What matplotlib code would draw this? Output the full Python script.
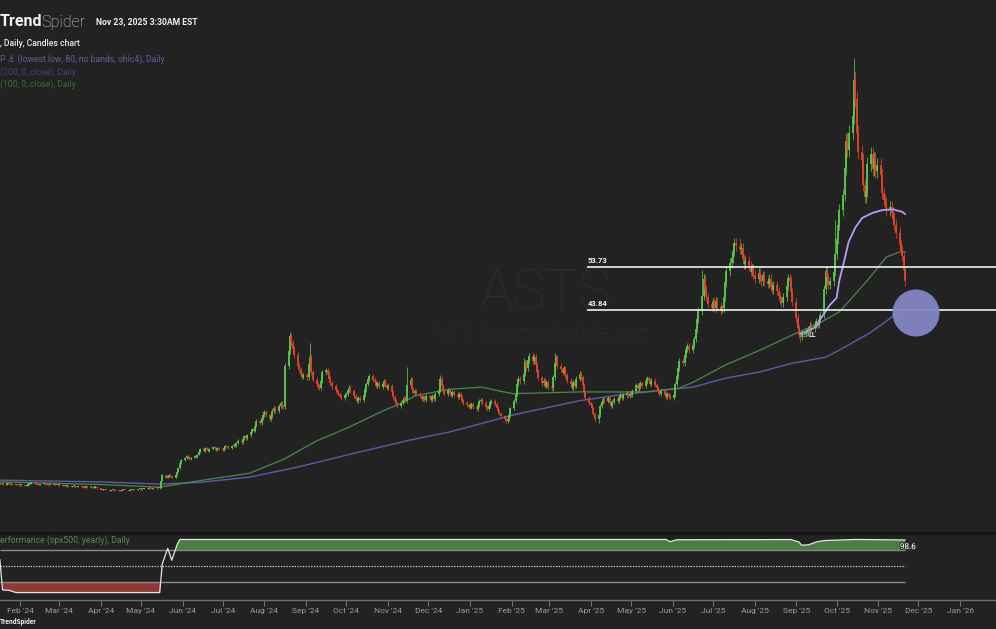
import numpy as np
import pandas as pd
import matplotlib
matplotlib.use("Agg")
import matplotlib.pyplot as plt
import matplotlib.dates as mdates
from matplotlib.patches import Ellipse
from matplotlib.lines import Line2D
import matplotlib.patheffects as pe

# ---------------- DATA ----------------
month_starts = ["2024-01-17", "2024-02-01", "2024-03-01", "2024-04-01", "2024-05-01", "2024-06-01",
                "2024-07-01", "2024-08-01", "2024-09-01", "2024-10-01", "2024-11-01", "2024-12-01",
                "2025-01-01", "2025-02-01", "2025-03-01", "2025-04-01", "2025-05-01", "2025-06-01",
                "2025-07-01", "2025-08-01", "2025-09-01", "2025-10-01", "2025-11-01"]
last_day = "2025-11-21"

month_closes = [
    [3.9, 3.8, 3.7, 3.9, 4.0, 3.8, 3.7, 3.6, 3.7, 3.6, 3.5],
    [3.5, 3.6, 3.4, 3.5, 3.7, 3.9, 4.2, 4.0, 3.8, 3.7, 3.6, 3.8, 3.9, 3.7, 3.6, 3.5, 3.6, 3.8, 3.7, 3.6, 3.5],
    [3.5, 3.4, 3.5, 3.3, 3.4, 3.2, 3.3, 3.4, 3.2, 3.1, 3.3, 3.2, 3.1, 3.0, 3.2, 3.1, 3.0, 2.9, 3.0, 3.1, 2.8],
    [2.5, 2.4, 2.6, 2.5, 2.4, 2.3, 2.5, 2.6, 2.4, 2.3, 2.2, 2.3, 2.4, 2.5, 2.4, 2.3, 2.4, 2.5, 2.6, 2.5, 2.6, 2.7],
    [2.6, 2.7, 2.8, 2.7, 2.9, 2.8, 2.7, 2.8, 2.9, 2.8, 3.0, 4.6, 5.9, 5.2, 5.6, 6.0, 5.6, 5.3, 5.8, 6.6, 7.4, 8.6, 9.4],
    [9.8, 10.2, 10.0, 9.6, 9.9, 10.3, 10.1, 10.6, 11.2, 11.8, 11.5, 12.2, 11.9, 11.4, 11.8, 12.3, 12.0, 11.6, 12.1, 11.8],
    [11.7, 12.2, 12.6, 12.3, 12.0, 12.5, 12.9, 12.6, 13.2, 13.8, 13.4, 14.2, 14.8, 14.3, 15.0, 15.8, 16.4, 16.0, 17.2, 18.3, 17.8, 19.0, 19.6],
    [20.4, 19.6, 18.8, 19.5, 20.6, 21.3, 20.5, 21.8, 22.4, 21.6, 21.5, 31.0, 34.5, 37.8, 36.2, 34.8, 33.5, 31.0, 30.2, 29.0, 28.5, 28.8],
    [28.4, 31.5, 33.0, 29.5, 27.8, 26.8, 26.2, 26.0, 27.5, 29.5, 30.0, 29.2, 28.0, 27.0, 26.3, 25.5, 25.0, 24.5, 24.0, 23.6, 24.2],
    [24.6, 25.4, 26.0, 25.2, 24.0, 23.4, 23.0, 23.6, 23.2, 24.4, 25.6, 26.8, 28.0, 28.6, 27.8, 27.2, 26.4, 27.0, 26.2, 26.8, 27.4, 26.6, 26.0],
    [26.4, 25.0, 23.8, 22.9, 22.2, 21.8, 22.4, 23.2, 23.6, 23.0, 26.5, 27.8, 25.6, 24.8, 25.2, 24.6, 24.0, 23.4, 23.8, 23.2, 24.0],
    [23.6, 23.2, 24.0, 23.4, 24.6, 25.5, 28.0, 26.4, 25.2, 24.6, 25.4, 24.8, 24.2, 25.0, 24.4, 23.8, 24.6, 23.9, 23.0, 22.4, 22.0, 21.6],
    [21.4, 22.2, 21.6, 21.0, 22.0, 22.8, 23.2, 22.4, 21.6, 21.0, 21.8, 22.6, 23.0, 22.2, 21.4, 20.6, 20.0, 19.4, 18.8, 18.2, 18.8, 19.6, 21.2],
    [23.0, 24.6, 26.8, 28.0, 27.4, 29.2, 31.6, 30.4, 32.4, 33.2, 32.0, 33.0, 31.2, 29.6, 28.2, 27.0, 27.6, 26.4, 27.2, 26.0],
    [25.8, 28.4, 31.6, 32.8, 31.0, 30.2, 29.4, 30.4, 28.8, 27.6, 26.8, 26.0, 27.2, 26.4, 28.0, 29.2, 28.4, 26.6, 25.0, 23.6, 22.4],
    [22.0, 21.2, 20.0, 18.8, 19.6, 21.8, 22.6, 23.4, 22.8, 23.6, 22.4, 21.8, 22.6, 23.4, 22.8, 23.8, 24.4, 23.6, 24.2, 24.8, 24.0, 24.6],
    [24.4, 25.2, 26.6, 25.8, 26.2, 27.0, 26.4, 27.4, 28.2, 27.6, 26.8, 27.6, 26.6, 25.8, 25.2, 24.6, 25.2, 24.4, 23.8, 24.6, 24.0, 23.6],
    [24.2, 26.8, 28.6, 30.4, 32.2, 31.6, 33.4, 34.8, 35.6, 34.6, 35.8, 37.2, 39.4, 41.8, 43.6, 47.0, 51.0, 48.6, 46.8, 45.2, 44.4],
    [45.6, 44.2, 45.8, 44.8, 43.6, 44.2, 46.8, 50.2, 52.8, 54.6, 55.8, 57.4, 59.2, 58.6, 57.8, 58.2, 55.6, 54.4, 55.2, 54.0, 52.6, 53.4, 52.0],
    [51.0, 52.4, 51.2, 50.4, 51.8, 50.6, 49.8, 51.0, 49.2, 48.4, 49.6, 48.2, 47.0, 46.2, 45.4, 46.8, 49.4, 51.2, 50.6, 48.0, 45.6],
    [42.0, 39.6, 38.2, 37.6, 38.4, 39.0, 38.6, 39.4, 40.2, 39.6, 40.6, 41.2, 40.4, 41.6, 42.8, 48.6, 52.8, 51.4, 49.6, 50.4, 52.6, 56.8],
    [60.2, 63.4, 66.8, 70.2, 76.4, 82.8, 80.6, 84.6, 88.4, 96.8, 92.4, 84.6, 80.2, 78.4, 72.6, 69.8, 71.2, 77.4, 79.8, 76.2, 78.6, 75.8, 77.2],
    [75.0, 70.8, 69.2, 68.4, 66.8, 67.6, 66.2, 65.0, 63.4, 61.6, 58.8, 57.6, 56.2, 53.0, 50.4],
]

wick_high_dates = ["2024-08-20", "2024-09-04", "2024-11-15", "2024-12-10", "2025-02-10", "2025-03-05",
                   "2025-06-23", "2025-07-21", "2025-09-30", "2025-10-14"]
wick_high_vals = [38.8, 36.2, 30.7, 28.9, 32.8, 33.9, 53.0, 60.4, 64.5, 101.8]
wick_low_dates = ["2025-04-07", "2025-07-08", "2025-09-04"]
wick_low_vals = [17.8, 43.2, 36.5]

sma200_dates = ["2024-01-17", "2024-04-01", "2024-05-15", "2024-06-14", "2024-07-21", "2024-08-27", "2024-10-03",
                "2024-11-17", "2024-12-17", "2025-01-08", "2025-02-02", "2025-03-24", "2025-04-22", "2025-05-22",
                "2025-06-16", "2025-07-11", "2025-08-05", "2025-08-29", "2025-09-23", "2025-10-03", "2025-10-26",
                "2025-11-12", "2025-11-21"]
sma200_vals = [4.7, 4.3, 3.8, 4.2, 5.4, 7.8, 10.6, 13.9, 15.8, 17.6, 19.7, 23.0, 24.3, 25.3, 26.1, 28.2, 29.6,
               31.6, 33.0, 34.6, 38.6, 42.4, 43.8]

sma100_dates = ["2024-01-17", "2024-04-01", "2024-05-15", "2024-06-14", "2024-07-21", "2024-08-16", "2024-09-08",
                "2024-10-03", "2024-10-28", "2024-11-10", "2024-11-22", "2024-12-17", "2025-01-10", "2025-01-23",
                "2025-02-02", "2025-03-24", "2025-05-12", "2025-06-06", "2025-06-16", "2025-07-11", "2025-08-05",
                "2025-08-29", "2025-09-18", "2025-10-03", "2025-10-11", "2025-10-26", "2025-11-07", "2025-11-17",
                "2025-11-21"]
sma100_vals = [4.3, 3.7, 3.1, 4.6, 6.3, 9.6, 13.6, 16.9, 20.6, 22.3, 24.2, 25.6, 26.1, 25.2, 24.6, 25.0, 25.0,
               25.9, 27.2, 31.3, 34.6, 38.1, 40.8, 43.4, 46.1, 51.4, 56.0, 57.2, 57.2]

vwap_dates = ["2025-09-04", "2025-09-11", "2025-09-16", "2025-09-19", "2025-09-23", "2025-09-26", "2025-10-01",
              "2025-10-03", "2025-10-07", "2025-10-10", "2025-10-15", "2025-10-20", "2025-10-28", "2025-11-04",
              "2025-11-12", "2025-11-19", "2025-11-21"]
vwap_vals = [38.4, 39.2, 40.0, 41.8, 43.6, 45.0, 46.6, 50.5, 55.5, 59.5, 62.8, 65.0, 66.2, 66.8, 67.0, 66.4, 65.9]

perf_dates = ["2024-01-17", "2024-01-19", "2024-01-24", "2024-01-29", "2024-05-15", "2024-05-17", "2024-05-21",
              "2024-05-24", "2024-05-28", "2024-05-30", "2025-05-27", "2025-05-30", "2025-06-04", "2025-08-28",
              "2025-09-03", "2025-09-05", "2025-09-10", "2025-09-16", "2025-09-22", "2025-10-15", "2025-11-05",
              "2025-11-21"]
perf_vals = [62, 6, 5, 1, 1, 55, 83, 61, 90, 99.5, 99.5, 95.5, 99.0, 99.3, 95, 89, 89.5, 95, 97.5, 99.5, 99.0, 98.6]

levels = [53.73, 43.84]
perf_levels = [80, 50, 20]

# ---------------- LAYOUT ----------------
W, H = 996, 629
BG = "#222222"
PX_PER_DAY = 1.343
fig = plt.figure(figsize=(W / 100, H / 100), dpi=100)
fig.patch.set_facecolor(BG)
plt.rcParams["font.family"] = ["Roboto", "DejaVu Sans"]

x_feb = mdates.date2num(pd.Timestamp("2024-02-01"))
xmin = x_feb - 20 / PX_PER_DAY
xmax = xmin + W / PX_PER_DAY
MAIN_H = 533


def xat(px):
    return xmin + px / PX_PER_DAY


def fx(x):
    return x / W


def fy(y):
    return 1 - y / H


ax = fig.add_axes([0, (H - MAIN_H) / H, 1, MAIN_H / H])
ax.set_facecolor(BG)
ax.set_xlim(xmin, xmax)
ax.set_ylim(-7.45, 115.14)
ax.axis("off")

# watermark (inside axes, behind everything)
ax.text(545 / W, 1 - 294 / MAIN_H, "ASTS", transform=ax.transAxes, fontsize=40, fontweight="light",
        color="#2b2b2b", ha="center", va="center", zorder=0)
ax.text(542 / W, 1 - 335 / MAIN_H, "AST SpaceMobile, Inc.", transform=ax.transAxes, fontsize=17,
        fontweight="light", color="#2b2b2b", ha="center", va="center", zorder=0)

# build candles
dates = []
closes = []
for i, vals in enumerate(month_closes):
    start = pd.Timestamp(month_starts[i])
    if i + 1 < len(month_starts):
        end = pd.Timestamp(month_starts[i + 1]) - pd.Timedelta(days=1)
    else:
        end = pd.Timestamp(last_day)
    b = pd.bdate_range(start, end)
    idx = np.round(np.linspace(0, len(b) - 1, len(vals))).astype(int)
    dates.extend(list(b[idx]))
    closes.extend(vals)
dates = pd.DatetimeIndex(dates)
closes = np.array(closes, dtype=float)
opens = np.concatenate([[closes[0]], closes[:-1]])
wf = 0.02
highs = np.maximum(opens, closes) * (1 + wf)
lows = np.minimum(opens, closes) * (1 - wf)
dstr = dates.strftime("%Y-%m-%d")
for d, v in zip(wick_high_dates, wick_high_vals):
    m = np.where(dstr == d)[0]
    if len(m):
        highs[m[0]] = v
for d, v in zip(wick_low_dates, wick_low_vals):
    m = np.where(dstr == d)[0]
    if len(m):
        lows[m[0]] = v

xd = mdates.date2num(dates)
up = closes >= opens
cols = np.where(up, "#5cc84a", "#e0442c")
body_lo = np.minimum(opens, closes)
body_hi = np.maximum(opens, closes)
body_hi = np.maximum(body_hi, body_lo + 0.25)
ax.vlines(xd, lows, highs, colors=cols, lw=0.55, zorder=3)
ax.vlines(xd, body_lo, body_hi, colors=cols, lw=1.3, zorder=3)

# moving averages / vwap
ax.plot(mdates.date2num(pd.to_datetime(sma200_dates)), sma200_vals, color="#5a5ea8", lw=1.0, zorder=2)
ax.plot(mdates.date2num(pd.to_datetime(sma100_dates)), sma100_vals, color="#4d874d", lw=0.9, zorder=2)
ax.plot(mdates.date2num(pd.to_datetime(vwap_dates)), vwap_vals, color="#b69df2", lw=1.3, zorder=4)

# horizontal levels
ax.hlines(levels, xat(587), xmax, colors="#f0f0f0", lw=1.2, zorder=5)
for lv in levels:
    ax.annotate(f"{lv:.2f}", xy=(xat(588), lv), xytext=(0, 2.5), textcoords="offset points",
                ha="left", va="bottom", fontsize=5.5, fontweight="bold", color="#f4f4f4", zorder=6)

# circle highlight
ax.add_patch(Ellipse((xat(916), 43.15), width=47 / PX_PER_DAY, height=47 / 4.348,
                     facecolor="#8486c4", edgecolor="none", alpha=0.95, zorder=6))

# LL marker
fig.text(fx(803), fy(335), "\u2693", fontsize=5, color="#4fb8c8", ha="center", va="center",
         family=["DejaVu Sans"])
fig.text(fx(808), fy(335), "LL", fontsize=5, fontweight="bold", color="#f0f0f0", ha="left", va="center")

# header text
fig.text(fx(0), fy(22), "Trend", fontsize=11.5, fontweight="bold", color="#f2f2f2", ha="left", va="center")
fig.text(fx(41), fy(22), "Spider", fontsize=11.5, fontweight="light", color="#d8d8d8", ha="left", va="center")
fig.text(fx(96), fy(22), "Nov 23, 2025 3:30AM EST", fontsize=6.2, fontweight="bold", color="#eeeeee",
         ha="left", va="center")
fig.text(fx(0), fy(43), ", Daily, Candles chart", fontsize=6.2, fontweight="medium", color="#eaeaea",
         ha="left", va="center")
fig.text(fx(0), fy(59), "P \u2693 (lowest low, 80, no bands, ohlc4), Daily", fontsize=6.2, color="#6c56a0",
         ha="left", va="center")
fig.text(fx(0), fy(72), "(200, 0, close), Daily", fontsize=6.2, color="#3c4577", ha="left", va="center")
fig.text(fx(0), fy(84), "(100, 0, close), Daily", fontsize=6.2, color="#3b6b3b", ha="left", va="center")

# separator
fig.add_artist(Line2D([0, 1], [fy(532.5), fy(532.5)], color="#161616", lw=2.2))

# ---------------- INDICATOR PANEL ----------------
ax2 = fig.add_axes([0, (H - 600) / H, 1, 67 / H])
ax2.set_facecolor(BG)
ax2.set_xlim(xmin, xmax)
ax2.set_ylim(-12.8, 111.5)
for s in ["top", "left", "right"]:
    ax2.spines[s].set_visible(False)
ax2.spines["bottom"].set_color("#6e6e6e")
ax2.spines["bottom"].set_linewidth(1)
ax2.set_yticks([])
ax2.xaxis.set_major_locator(mdates.MonthLocator())
ax2.xaxis.set_major_formatter(mdates.DateFormatter("%b '%y"))
ax2.tick_params(axis="x", colors="#9c9c9c", labelsize=6, length=4, width=0.8, pad=1.5)
ax2.tick_params(axis="x", color="#6e6e6e")

pd_x = mdates.date2num(pd.to_datetime(perf_dates))
pv = np.array(perf_vals, dtype=float)
x_end = mdates.date2num(pd.Timestamp(last_day))
ax2.hlines([perf_levels[0], perf_levels[2]], xmin, x_end, colors="#8a8a8a", lw=1.0, zorder=2)
ax2.hlines([perf_levels[1]], xmin, x_end, colors="#d8d8d8", lw=0.9, linestyles=(0, (1, 1.2)), zorder=2)
ax2.fill_between(pd_x, pv, perf_levels[0], where=pv >= perf_levels[0], interpolate=True,
                 color="#4b7d44", lw=0, zorder=1)
ax2.fill_between(pd_x, pv, perf_levels[2], where=pv <= perf_levels[2], interpolate=True,
                 color="#8f3a35", lw=0, zorder=1)
ax2.plot(pd_x, pv, color="#e4e4e4", lw=0.9, zorder=3)
ax2.text(xat(900), 85.5, f"{perf_vals[-1]:.1f}", fontsize=5.8, color="#ffffff", ha="left", va="center",
         zorder=5, path_effects=[pe.withStroke(linewidth=1.5, foreground="#333333")])

fig.text(fx(0), fy(540), "erformance (spx500, yearly), Daily", fontsize=6.2, color="#4f8c4f",
         ha="left", va="center")
fig.text(fx(0), fy(622), "TrendSpider", fontsize=4.8, fontweight="bold", color="#f0f0f0",
         ha="left", va="center")

fig.savefig("out.png", dpi=100, facecolor=BG)
